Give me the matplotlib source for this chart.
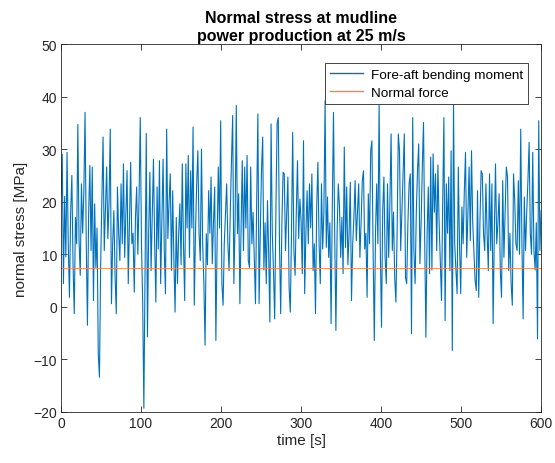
import numpy as np
import matplotlib
matplotlib.use('Agg')
import matplotlib.pyplot as plt
import matplotlib.ticker as ticker

stress = [
    # 0 - 28.5 s
    21, 29, 4.4, 21, 9.5, 29.4, 12, 1.8, 18, 25, 8, -1.3, 17, 12, 34.7, 12.6, 6, 23.4, 14, 22,
    # 30 - 58.5 s
    37, 12, -3.5, 18, 26.9, 10.7, 26.6, 1.2, 19.6, 7.5, 15, -8.9, -13.4, 8, 20, 32.3, 10.7, 19, 26.6, 13,
    # 60 - 88.5 s
    20, 33.8, 0.6, 12, 18.3, 6, -1.3, 22.8, 14, 8.8, 23.4, 12, 27.2, 9.4, 18, 25.9, 4.4, 16, 27.5, 12,
    # 90 - 118.5 s
    14, 2.8, 17, 22.8, 10, 21, 36, 12, 1.2, -19.3, 8, 33, -5.7, 14, 25.6, 6.9, 18, 28.1, 12, 0.9,
    # 120 - 148.5 s
    22.8, 11, 27.8, 4.4, 16, 28.1, 11, 2.5, 33.8, 13, 20, 25.3, 6.9, 22.1, 9, -1, 17, 4.4, 14, 19.6,
    # 150 - 178.5 s
    8, 27.2, 12, 1.2, 27.2, 15, 28.8, 9.4, 25.9, 15, 34.2, 0.3, 14, 23.4, 29.7, 14, 8.8, 30, 12, 4.4,
    # 180 - 208.5 s
    -7.3, 13.9, 8, 22.1, 14, 24.7, 8.2, 16, 22.8, -6.4, 12, 26.6, 15, 35.4, 4.4, 0.3, 12, 17.7, 23.4, 12,
    # 210 - 238.5 s
    6.9, 18, 27.8, 36.4, 4.4, 16, 38.3, 13.9, 21.5, 0.6, 15, 27.8, 10.7, 26.6, 15, 28.8, 8.8, 7.5, 26.6, 12,
    # 240 - 268.5 s
    18, 9, 0.6, 20, 36.7, 0.6, 14, 25.9, 32.3, 7, 16, 4.4, 20.2, 10, -2.9, 34.8, 14, 6.9, -2.3, 18,
    # 270 - 298.5 s
    34.8, 36, 12, -1.3, 16, 25.6, 25.3, 10.7, 18, 24.7, 3.7, -1, 14, 33.2, 10.7, 6, 18, 27.8, 13, 20.5,
    # 300 - 328.5 s
    16.4, 6.3, 31.6, 2.5, 14, 22.1, 12, 23.4, 15, 25.3, 6.9, 12, -1.3, 19, 27.5, 12, 4.4, 23.4, 11, 18,
    # 330 - 358.5 s
    39.2, 11.3, 20.9, 9.4, 16, -3.2, 19, 37, 13.9, -4.5, 14, 23.4, 19, 9.4, 17, 6.3, 30.4, 11.3, 22.8, 8,
    # 360 - 388.5 s
    14, 23.7, 1.2, 12, 17, 24, 12.6, 18, 23.4, 9.4, 16, 24, 25.9, 11, 14, 1.8, 21.5, 12, 29.7, 31.6,
    # 390 - 418.5 s
    11, -6.4, 14, 23.4, 12, 38.6, 11, -3.9, 18.3, 24.7, 9.4, 4.4, 23.4, 9.4, 20, 32.9, 10.7, 18, 5.6, 0.9,
    # 420 - 448.5 s
    14, 32.9, 29.7, 10.7, 18, 25.3, 32.9, 5.6, 4.4, 16, 23.4, 25.3, -5.1, 36, 10.7, 4.4, 18, 25.9, 31, 8.2,
    # 450 - 478.5 s
    16, 26.6, 35.1, 12.6, -5.8, 14, 22.8, 6.3, 28.5, 7, 29.1, 18, 25.3, 10.7, 27, 16, 8.8, 1.2, 20, 36,
    # 480 - 508.5 s
    -2.6, 23.4, 14, 24.7, 6.9, 29.7, -8.3, 38.6, 12, 7, 2.5, 26.6, 12, 2.5, 19, 12, 22, 29.4, 9.4, 18,
    # 510 - 538.5 s
    26.6, 12.6, 29.7, 16, 10.7, 5, 3.1, 22.1, 1.8, 16, 25.9, 25.3, 14, 10.7, 23.4, 14, 6.9, 25.3, 10.7, 23.4,
    # 540 - 568.5 s
    -3.2, 14, 27.2, 12, 16, 21.5, 6.9, 1.8, 24, 9.4, 18, 26.6, 24.7, 6.9, 14, 4.4, 0.3, 25.3, 20.2, 12,
    # 570 - 600 s
    10.7, 24, 10, 33.8, 12, -2.3, 20.9, 10.7, 18, 24, 31.3, 14, 10, 29.4, 10.7, 7, 16, -6.1, 35.4, 10.7,
    18.3,
]
dt = 1.5
normal_force = 7.4  # MPa, constant

time = np.arange(len(stress)) * dt

#%% plot setup
plt.rcParams['font.family'] = ['Liberation Sans', 'DejaVu Sans']

fig = plt.figure(figsize=(5.55, 4.64), dpi=100)
ax = fig.add_axes([0.110, 0.110, 0.865, 0.793])

ax.plot(time, stress, color='#0072BD', linewidth=0.8,
        label='Fore-aft bending moment')
ax.plot([time[0], time[-1]], [normal_force, normal_force],
        color='#E8875A', linewidth=0.6, label='Normal force')

# axes, ticks
ax.set_xlim(0, 600)
ax.set_ylim(-20, 50)
ax.xaxis.set_major_locator(ticker.MultipleLocator(100))
ax.yaxis.set_major_locator(ticker.MultipleLocator(10))
ax.tick_params(direction='in', top=True, right=True, length=4, width=0.6,
               colors='#262626', labelsize=10, pad=3)
for sp in ax.spines.values():
    sp.set_color('#262626')
    sp.set_linewidth(0.6)

ax.set_xlabel('time [s]', fontsize=11, color='#262626', labelpad=2)
ax.set_ylabel('normal stress [MPa]', fontsize=11, color='#262626', labelpad=4)
ax.set_title('Normal stress at mudline\npower production at 25 m/s',
             fontsize=11.5, fontweight='bold', linespacing=1.25, pad=3)

# legend
leg = ax.legend(loc='upper right', bbox_to_anchor=(0.973, 0.948),
                borderaxespad=0, fancybox=False, framealpha=1,
                edgecolor='#262626', fontsize=9.7, handlelength=2.4,
                handletextpad=0.6, borderpad=0.4, labelspacing=0.4)
leg.get_frame().set_linewidth(0.6)
for line in leg.get_lines():
    line.set_linewidth(1.0)

#%% Save figure
fig.savefig('out.png', dpi=100)
